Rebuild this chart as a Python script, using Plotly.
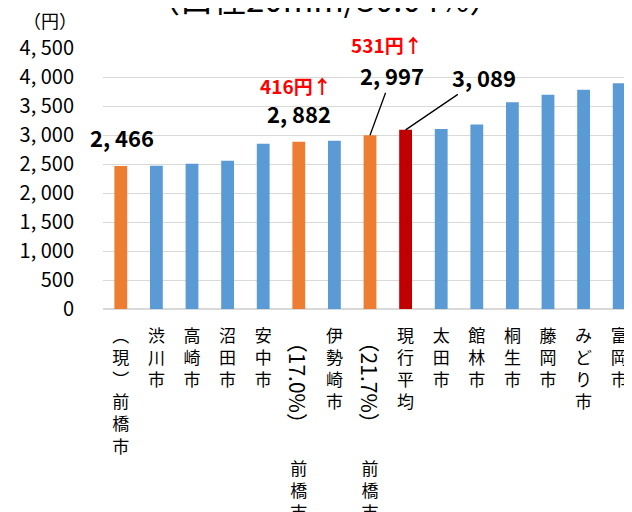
import plotly.graph_objects as go

# ---- data ----
categories = ["前橋市（現）", "渋川市", "高崎市", "沼田市", "安中市", "前橋市（17.0%）",
              "伊勢崎市", "前橋市（21.7%）", "現行平均", "太田市", "館林市", "桐生市",
              "藤岡市", "みどり市", "富岡市"]
values = [2466, 2470, 2504, 2556, 2850, 2882, 2902, 2997, 3089, 3104, 3183, 3563,
          3696, 3782, 3891]
bar_colors = ["#ED7D31", "#5B9BD5", "#5B9BD5", "#5B9BD5", "#5B9BD5", "#ED7D31",
              "#5B9BD5", "#ED7D31", "#C00000", "#5B9BD5", "#5B9BD5", "#5B9BD5",
              "#5B9BD5", "#5B9BD5", "#5B9BD5"]
y_tickvals = [0, 500, 1000, 1500, 2000, 2500, 3000, 3500, 4000, 4500]
title_text = "（口径20mm/30.04%）"
unit_text = "（円）"

FONT = "Noto Sans CJK JP"


def fmt(v):
    return f"{v:,}".replace(",", ", ")


def vstack(chars, pad=0):
    return "<br>".join(["\u3000"] * pad + list(chars))


# tick labels (vertical writing, stacked characters)
ticktext = []
rotated = {}
for c in categories:
    if "（" in c:
        name, paren = c.split("（")
        paren = "（" + paren
        if any(ch.isdigit() for ch in paren):
            ticktext.append(vstack(name, pad=6))
            rotated[c] = paren
        else:
            ticktext.append(vstack("︵" + paren[1:-1] + "︶" + name))
    else:
        ticktext.append(vstack(c))

fig = go.Figure()
fig.add_trace(go.Bar(x=categories, y=values, marker=dict(color=bar_colors, line_width=0),
                     width=0.36, hoverinfo="skip"))

annotations = []
# rotated parenthetical parts of labels
for c, p in rotated.items():
    annotations.append(dict(x=c, xref="x", y=-0.282, yref="paper", yanchor="middle",
                            text=p, textangle=90, showarrow=False,
                            font=dict(family=FONT, size=21, color="#000")))

lab_font = dict(family=FONT, size=22, color="#000")
red_font = dict(family=FONT, size=19, color="#FF0000")
i0, i17, i21, iavg = 0, 5, 7, 8
annotations += [
    dict(x=categories[i0], y=values[i0], text=f"<b>{fmt(values[i0])}</b>", showarrow=False,
         yshift=29, xshift=1, font=lab_font),
    dict(x=categories[i17], y=values[i17], text=f"<b>{fmt(values[i17])}</b>", showarrow=False,
         yshift=29, font=lab_font),
    dict(x=categories[i21], y=values[i21], text=f"<b>{fmt(values[i21])}</b>", showarrow=True,
         arrowhead=0, arrowwidth=1.3, arrowcolor="#000", ax=22, ay=-60, font=lab_font),
    dict(x=categories[iavg], y=values[iavg], text=f"<b>{fmt(values[iavg])}</b>", showarrow=True,
         arrowhead=0, arrowwidth=1.3, arrowcolor="#000", ax=78, ay=-53, font=lab_font),
    dict(x=categories[i17], y=values[i17], text=f"<b>{values[i17]-values[i0]}円↑</b>",
         showarrow=False, yshift=56, xshift=-3, font=red_font),
    dict(x=categories[i21], y=values[i21], text=f"<b>{values[i21]-values[i0]}円↑</b>",
         showarrow=False, yshift=91, xshift=17, font=red_font),
    dict(x=-0.1, xref="paper", xanchor="center", y=1.108, yref="paper", yanchor="middle",
         text=unit_text, showarrow=False, font=dict(family=FONT, size=18, color="#000")),
    dict(x=0.416, xref="paper", xanchor="center", y=1.093, yref="paper", yanchor="bottom",
         text=title_text, showarrow=False, font=dict(family=FONT, size=33, color="#000")),
]

fig.update_layout(
    width=632, height=512,
    margin=dict(l=95, r=3, t=40, b=211, autoexpand=False),
    plot_bgcolor="#FFFFFF", paper_bgcolor="#FFFFFF",
    showlegend=False,
    font=dict(family=FONT, color="#000"),
    annotations=annotations,
    xaxis=dict(type="category", categoryorder="array", categoryarray=categories,
               tickvals=categories, ticktext=ticktext, range=[-0.5, 14.5],
               tickfont=dict(family=FONT, size=17, color="#000"), ticks="",
               ticklabelstandoff=15,
               showgrid=False, showline=False, zeroline=False, fixedrange=True),
    yaxis=dict(range=[0, 4500], tickvals=y_tickvals, ticktext=[fmt(v) for v in y_tickvals],
               tickfont=dict(family=FONT, size=20, color="#000"), ticks="",
               ticklabelstandoff=28,
               showgrid=True, gridcolor="#D9D9D9", gridwidth=1.3,
               zeroline=True, zerolinecolor="#D9D9D9", zerolinewidth=1.5,
               showline=False, fixedrange=True),
)

fig.write_html("out.html")
